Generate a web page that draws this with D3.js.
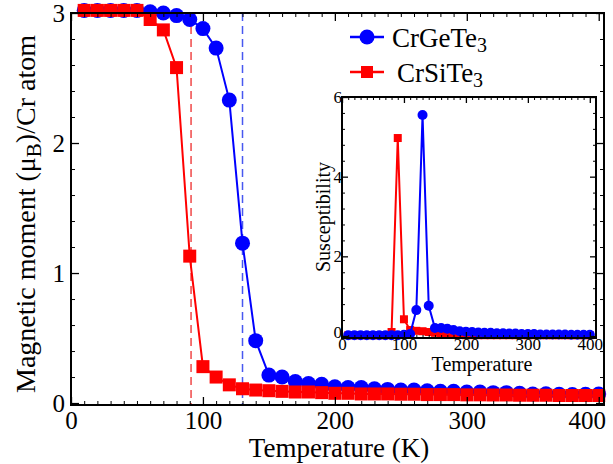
<!DOCTYPE html>
<html>
<head>
<meta charset="utf-8">
<script src="https://cdn.jsdelivr.net/npm/d3@7"></script>
<style>
  body { margin: 0; background: #fff; }
  svg { font-family: "Liberation Serif", "Times New Roman", serif; }
</style>
</head>
<body>
<div id="container"></div>
<script>
// temperatures (K)
const temps = [10, 20, 30, 40, 50, 60, 70, 80, 90, 100,
  110, 120, 130, 140, 150, 160, 170, 180, 190, 200,
  210, 220, 230, 240, 250, 260, 270, 280, 290, 300,
  310, 320, 330, 340, 350, 360, 370, 380, 390, 400];

// magnetic moment per Cr atom
const momentGe = [3.02, 3.02, 3.02, 3.02, 3.02, 3.01, 3.0, 2.98, 2.95, 2.88,
  2.73, 2.33, 1.23, 0.48, 0.215, 0.2, 0.165, 0.15, 0.145, 0.125,
  0.12, 0.12, 0.11, 0.105, 0.1, 0.1, 0.095, 0.09, 0.09, 0.085,
  0.085, 0.08, 0.08, 0.075, 0.07, 0.072, 0.068, 0.065, 0.068, 0.07];
const momentSi = [3.02, 3.02, 3.02, 3.02, 3.02, 2.95, 2.87, 2.58, 1.13, 0.28,
  0.2, 0.14, 0.11, 0.1, 0.095, 0.09, 0.085, 0.085, 0.08, 0.075,
  0.075, 0.07, 0.07, 0.07, 0.068, 0.068, 0.065, 0.065, 0.065, 0.063,
  0.063, 0.062, 0.062, 0.06, 0.06, 0.06, 0.058, 0.058, 0.058, 0.058];

// susceptibility (inset)
const suscGe = [0.02, 0.02, 0.02, 0.02, 0.02, 0.02, 0.02, 0.02, 0.02, 0.03,
  0.05, 0.65, 5.55, 0.76, 0.2, 0.2, 0.18, 0.15, 0.12, 0.11,
  0.1, 0.09, 0.08, 0.08, 0.07, 0.07, 0.06, 0.06, 0.05, 0.05,
  0.05, 0.04, 0.04, 0.04, 0.04, 0.04, 0.03, 0.03, 0.03, 0.03];
const suscSi = [0.02, 0.02, 0.02, 0.02, 0.02, 0.02, 0.02, 0.1, 4.97, 0.42,
  0.15, 0.13, 0.12, 0.1, 0.08, 0.06, 0.05, 0.04, 0.03, 0.02,
  0.02, 0.02, 0.02, 0.02, 0.02, 0.02, 0.02, 0.02, 0.02, 0.02,
  0.02, 0.02, 0.02, 0.02, 0.02, 0.02, 0.02, 0.02, 0.02, 0.02];

// Curie temperatures (dashed markers)
const tcSi = 91;
const tcGe = 130;

const mainXTicks = [0, 100, 200, 300, 400];
const mainYTicks = [0, 1, 2, 3];
const insetXTicks = [0, 100, 200, 300, 400];
const insetYTicks = [0, 2, 4, 6];

const blue = "#0000ff";
const red = "#ff0000";

const svg = d3.select("#container")
  .append("svg")
  .attr("width", 613)
  .attr("height", 464);

const x = d3.scaleLinear().domain([0, 404]).range([71, 604]);
const y = d3.scaleLinear().domain([-0.015, 3]).range([405, 13]);

const xi = d3.scaleLinear().domain([0, 410]).range([342, 596]);
const yi = d3.scaleLinear().domain([-0.05, 6]).range([338, 97]);

// frame with inward ticks on all four sides
function frame(xs, ys, o) {
  const [l, r] = xs.range();
  const [b, t] = ys.range();
  const g = svg.append("g");
  const xMinor = d3.range(0, xs.domain()[1], o.xStep).filter((v) => !o.xt.includes(v));
  const yMinor = d3.range(0, ys.domain()[1] + 1e-9, o.yStep).filter((v) => !o.yt.some((t) => Math.abs(t - v) < 1e-9));

  const sides = [
    [d3.axisBottom, xs, `translate(0,${b})`, o.xt, xMinor, true],
    [d3.axisTop, xs, `translate(0,${t})`, o.xt, xMinor, false],
    [d3.axisLeft, ys, `translate(${l},0)`, o.yt, yMinor, true],
    [d3.axisRight, ys, `translate(${r},0)`, o.yt, yMinor, false],
  ];
  const axes = sides.map(([axis, sc, tr, major, minor, labels]) => {
    g.append("g")
      .attr("transform", tr)
      .call(axis(sc).tickValues(minor).tickSize(-o.minor).tickFormat(""))
      .call((a) => a.select(".domain").remove())
      .selectAll("line").attr("stroke-width", 1);
    const ax = g.append("g")
      .attr("transform", tr)
      .call(axis(sc).tickValues(major).tickSize(-o.major).tickPadding(o.pad)
        .tickFormat(labels ? d3.format("d") : ""))
      .call((a) => a.select(".domain").remove());
    ax.attr("font-size", o.font).attr("font-family", null);
    ax.selectAll("line").attr("stroke-width", 1.3);
    return ax;
  });

  g.append("rect")
    .attr("x", l).attr("y", t)
    .attr("width", r - l).attr("height", b - t)
    .attr("fill", "none")
    .attr("stroke", "#000")
    .attr("stroke-width", 2);
  return axes;
}

function series(xs, ys, vals, color, shape, size, width) {
  const pts = temps.map((t, i) => [t, vals[i]]);
  const line = d3.line().x((d) => xs(d[0])).y((d) => ys(d[1]));
  svg.append("path")
    .datum(pts)
    .attr("d", line)
    .attr("fill", "none")
    .attr("stroke", color)
    .attr("stroke-width", width);
  const g = svg.append("g").attr("fill", color);
  if (shape === "circle") {
    g.selectAll("circle").data(pts).enter().append("circle")
      .attr("cx", (d) => xs(d[0]))
      .attr("cy", (d) => ys(d[1]))
      .attr("r", size);
  } else {
    g.selectAll("rect").data(pts).enter().append("rect")
      .attr("x", (d) => xs(d[0]) - size)
      .attr("y", (d) => ys(d[1]) - size)
      .attr("width", size * 2)
      .attr("height", size * 2);
  }
}

// main plot
[[tcSi, "#f04848"], [tcGe, "#4858f0"]].forEach(([t, c]) => {
  svg.append("line")
    .attr("x1", x(t)).attr("x2", x(t))
    .attr("y1", y.range()[1]).attr("y2", y.range()[0])
    .attr("stroke", c)
    .attr("stroke-width", 1.5)
    .attr("stroke-dasharray", "8,5");
});

series(x, y, momentGe, blue, "circle", 7.5, 2);
series(x, y, momentSi, red, "square", 6.5, 2);

const mainAxes = frame(x, y, { xt: mainXTicks, yt: mainYTicks, xStep: 10, yStep: 0.2,
  major: 8, minor: 4, pad: 6, font: 25 });
// last label pulled inside the window, as in the original
mainAxes[0].selectAll(".tick text").filter((d) => d === 400).attr("dx", -12);

svg.append("text")
  .attr("x", 339).attr("y", 457)
  .attr("text-anchor", "middle")
  .attr("font-size", 27)
  .text("Temperature (K)");

const ylab = svg.append("text")
  .attr("transform", "translate(35,214) rotate(-90)")
  .attr("text-anchor", "middle")
  .attr("font-size", 28);
ylab.append("tspan").text("Magnetic moment (μ");
ylab.append("tspan").attr("dy", 6).attr("font-size", 21).text("B");
ylab.append("tspan").attr("dy", -6).text(")/Cr atom");

// legend
const legend = [
  { name: "CrGeTe", color: blue, shape: "circle", y: 37, tx: 392 },
  { name: "CrSiTe", color: red, shape: "square", y: 72, tx: 397 },
];
legend.forEach((d) => {
  svg.append("line")
    .attr("x1", 350).attr("x2", 384)
    .attr("y1", d.y).attr("y2", d.y)
    .attr("stroke", d.color).attr("stroke-width", 2.5);
  if (d.shape === "circle") {
    svg.append("circle").attr("cx", 367).attr("cy", d.y).attr("r", 7.5).attr("fill", d.color);
  } else {
    svg.append("rect").attr("x", 361).attr("y", d.y - 6).attr("width", 12).attr("height", 12).attr("fill", d.color);
  }
  const t = svg.append("text")
    .attr("x", d.tx).attr("y", d.y + 10)
    .attr("font-size", 27);
  t.append("tspan").text(d.name);
  t.append("tspan").attr("dy", 5).attr("font-size", 20).text("3");
});

// inset
svg.append("rect")
  .attr("x", xi.range()[0]).attr("y", yi.range()[1])
  .attr("width", xi.range()[1] - xi.range()[0])
  .attr("height", yi.range()[0] - yi.range()[1])
  .attr("fill", "#fff");

series(xi, yi, suscSi, red, "square", 4, 2);
series(xi, yi, suscGe, blue, "circle", 5, 2);

const insetAxes = frame(xi, yi, { xt: insetXTicks, yt: insetYTicks, xStep: 10, yStep: 0.4,
  major: 6, minor: 3, pad: 0, font: 17 });
insetAxes[2].selectAll(".tick text").filter((d) => d === 0).attr("dy", "0.1em");

svg.append("text")
  .attr("x", 482).attr("y", 371)
  .attr("text-anchor", "middle")
  .attr("font-size", 20)
  .text("Temperature");

svg.append("text")
  .attr("transform", "translate(330,217) rotate(-90)")
  .attr("text-anchor", "middle")
  .attr("font-size", 20)
  .text("Susceptibility");
</script>
</body>
</html>
